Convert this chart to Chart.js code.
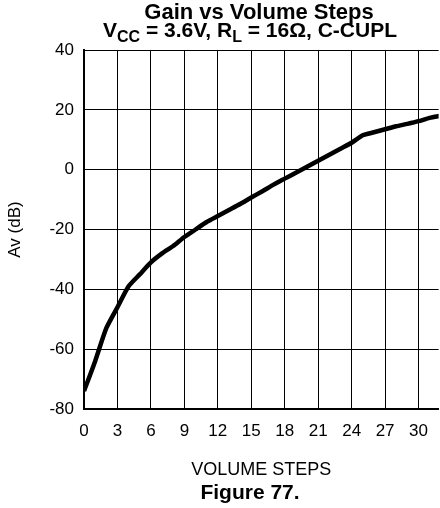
<!DOCTYPE html>
<html>
<head>
<meta charset="utf-8">
<script src="https://cdn.jsdelivr.net/npm/chart.js@4"></script>
<style>
  html, body { margin: 0; padding: 0; background: #fff; }
  #wrap { width: 440px; height: 508px; }
</style>
</head>
<body>
<div id="wrap"><canvas id="gainChart" width="440" height="508"></canvas></div>
<script>
const volumeSteps = [0, 1, 2, 3, 4, 5, 6, 7, 8, 9, 10, 11, 12, 13, 14, 15, 16,
    17, 18, 19, 20, 21, 22, 23, 24, 25, 26, 27, 28, 29, 30, 31, 32];
const gainDb = [-74, -64, -53, -46, -39, -35, -31, -28, -25.5, -22.5, -20, -17.5,
    -15.5, -13.5, -11.5, -9.3, -7.2, -5, -3, -1, 1, 3, 5, 7, 9, 11.5, 12.5,
    13.5, 14.5, 15.3, 16.2, 17.3, 18];
const xTickStep = 3;
const yTicks = [-80, -60, -40, -20, 0, 20, 40];

const FONT = '"Liberation Sans", Arial, Helvetica, sans-serif';

// title with subscripts + figure caption
const titlePlugin = {
    id: 'titles',
    afterDraw(chart) {
        const ctx = chart.ctx;
        ctx.save();
        ctx.fillStyle = '#000';
        ctx.textBaseline = 'alphabetic';
        ctx.textAlign = 'left';

        ctx.font = 'bold 22px ' + FONT;
        let w = ctx.measureText('Gain vs Volume Steps').width;
        ctx.fillText('Gain vs Volume Steps', 259 - w / 2, 19);

        const parts = [['V', 0], ['CC', 1], [' = 3.6V, R', 0], ['L', 1], [' = 16\u03A9, C-CUPL', 0]];
        const fontFor = sub => (sub ? 'bold 16px ' : 'bold 21px ') + FONT;
        let total = 0;
        parts.forEach(p => {
            ctx.font = fontFor(p[1]);
            total += ctx.measureText(p[0]).width;
        });
        let x = 250 - total / 2;
        parts.forEach(p => {
            ctx.font = fontFor(p[1]);
            ctx.fillText(p[0], x, p[1] ? 42 : 37);
            x += ctx.measureText(p[0]).width;
        });

        ctx.font = 'bold 21px ' + FONT;
        w = ctx.measureText('Figure 77.').width;
        ctx.fillText('Figure 77.', 250 - w / 2, 499);
        ctx.restore();
    }
};

new Chart(document.getElementById('gainChart'), {
    type: 'line',
    data: {
        labels: volumeSteps,
        datasets: [{
            data: volumeSteps.map((s, i) => ({ x: s, y: gainDb[i] })),
            borderColor: '#000',
            borderWidth: 4.5,
            pointRadius: 0,
            tension: 0.2,
            fill: false
        }]
    },
    options: {
        responsive: false,
        animation: false,
        layout: { padding: { top: 50, left: 0, right: 0, bottom: 0 } },
        plugins: {
            legend: { display: false },
            tooltip: { enabled: false }
        },
        scales: {
            x: {
                type: 'linear',
                min: 0,
                max: 31.8,
                afterFit(scale) { scale.height = 99; },
                ticks: {
                    stepSize: xTickStep,
                    includeBounds: false,
                    color: '#000',
                    padding: 12,
                    font: { family: FONT, size: 17 },
                    maxRotation: 0
                },
                grid: { color: '#000', lineWidth: 1, drawTicks: false },
                border: { color: '#000', width: 2 },
                title: {
                    display: true,
                    text: 'VOLUME STEPS',
                    color: '#000',
                    font: { family: FONT, size: 18 },
                    padding: { top: 0, bottom: 27 }
                }
            },
            y: {
                min: -80,
                max: 40,
                afterFit(scale) { scale.width = 84; },
                afterBuildTicks(scale) { scale.ticks = yTicks.map(v => ({ value: v })); },
                ticks: {
                    color: '#000',
                    padding: 10,
                    font: { family: FONT, size: 17 }
                },
                grid: { color: '#000', lineWidth: 1, drawTicks: false },
                border: { color: '#000', width: 2 },
                title: {
                    display: true,
                    text: 'Av (dB)',
                    color: '#000',
                    font: { family: FONT, size: 17 },
                    padding: { top: 5, bottom: 0 }
                }
            }
        }
    },
    plugins: [titlePlugin]
});
</script>
</body>
</html>
